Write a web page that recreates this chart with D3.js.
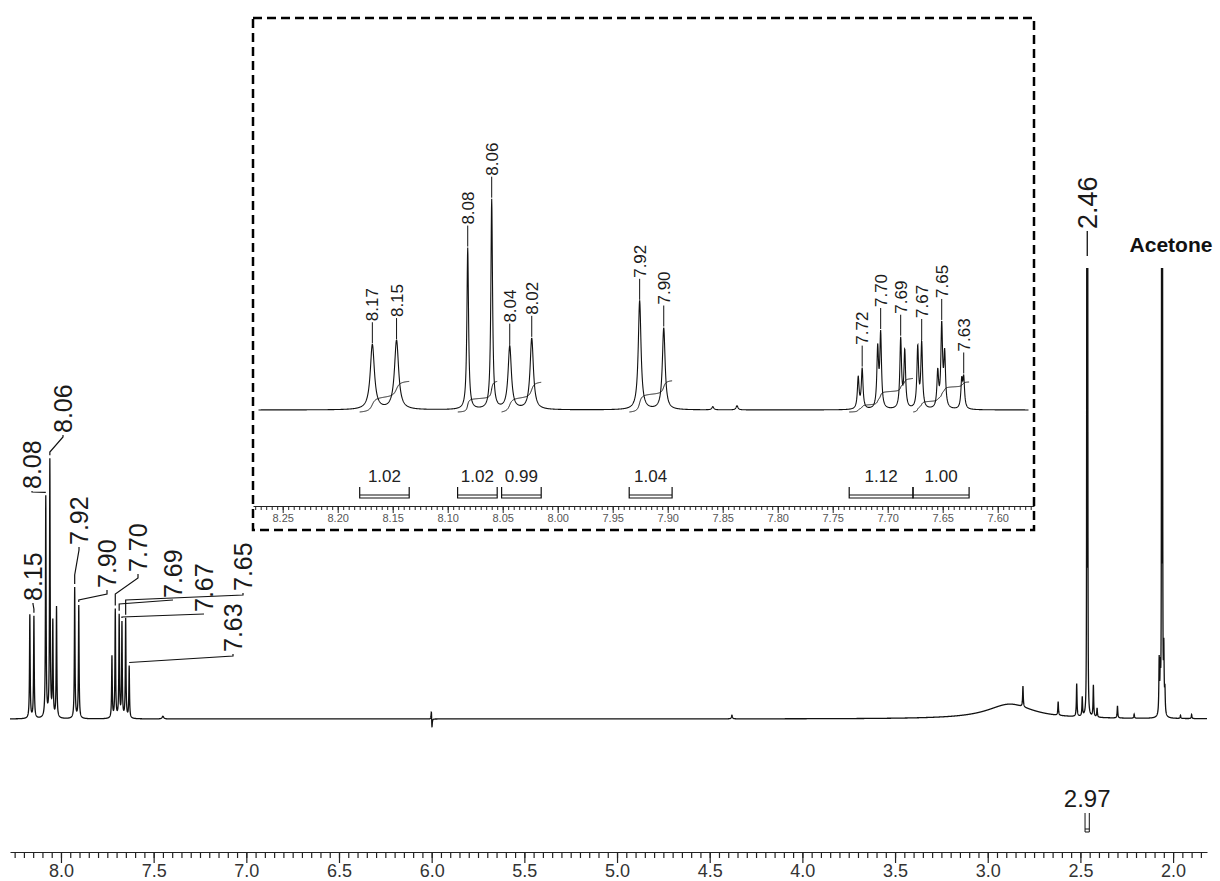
<!DOCTYPE html>
<html>
<head>
<meta charset="utf-8">
<script src="https://cdn.jsdelivr.net/npm/d3@7"></script>
<style>
  body { margin: 0; background: #fff; }
  svg { display: block; font-family: "Liberation Sans", Arial, Helvetica, sans-serif; }
</style>
</head>
<body>
<svg id="chart" width="1220" height="881"></svg>
<script>
// ---- full spectrum: line positions (ppm), intensity (% of tallest), line width (ppm) ----
const mainPpm    = [8.168, 8.146, 8.082, 8.060, 8.044, 8.024, 7.926, 7.904, 7.725, 7.707, 7.686, 7.671, 7.651, 7.632,
                    7.45, 6.0015, 5.9985, 4.38, 2.88, 2.81, 2.62, 2.52, 2.49, 2.4655, 2.4605, 2.43, 2.41, 2.30, 2.21,
                    2.075, 2.069, 2.062, 2.057, 2.050, 2.044, 1.96, 1.90];
const mainHeight = [23, 22.6, 49, 57, 21, 24.6, 29, 25, 13.7, 24, 22.6, 21, 22, 11.5,
                    0.6, 2.2, -2.4, 0.8, 3.3, 4.6, 3, 7.3, 4.2, 120, 120, 7, 2, 2.7, 0.9,
                    12, 9, 120, 120, 14, 5, 0.7, 0.9];
const mainWidth  = [0.004, 0.004, 0.004, 0.004, 0.004, 0.004, 0.004, 0.004, 0.004, 0.004, 0.004, 0.004, 0.004, 0.004,
                    0.01, 0.004, 0.004, 0.006, 0.30, 0.004, 0.004, 0.004, 0.004, 0.002, 0.002, 0.004, 0.004, 0.004, 0.004,
                    0.004, 0.004, 0.002, 0.002, 0.004, 0.004, 0.004, 0.004];

const mainLabels   = ["8.15", "8.08", "8.06", "7.92", "7.90", "7.70", "7.69", "7.67", "7.65", "7.63"];
const mainLabelPpm = [8.146, 8.082, 8.060, 7.926, 7.904, 7.707, 7.686, 7.671, 7.651, 7.632];
const mainIntegralRange = [2.475, 2.452];
const mainIntegralValue = "2.97";

// ---- expansion 8.28 - 7.57 ppm ----
const insetPpm    = [8.1685, 8.1465, 8.0818, 8.0600, 8.0436, 8.0236, 7.9255, 7.9036, 7.8590, 7.8370,
                     7.7268, 7.7232, 7.7091, 7.7064, 7.6882, 7.6845, 7.6727, 7.6691, 7.6545, 7.6509, 7.6482, 7.6327, 7.6309];
const insetHeight = [31, 33, 77, 100, 30, 34, 52, 39, 1.5, 2,
                     15, 19, 28, 35, 33, 27, 29, 31, 17, 39, 25, 13, 14];
const insetWidth  = [0.0045, 0.0045, 0.0018, 0.0018, 0.0036, 0.0036, 0.003, 0.003, 0.002, 0.002,
                     0.0018, 0.0018, 0.0018, 0.0018, 0.0018, 0.0018, 0.0018, 0.0018, 0.0018, 0.0018, 0.0018, 0.0018, 0.0018];

const insetLabels   = ["8.17", "8.15", "8.08", "8.06", "8.04", "8.02", "7.92", "7.90", "7.72", "7.70", "7.69", "7.67", "7.65", "7.63"];
const insetLabelPpm = [8.1685, 8.1465, 8.0818, 8.0600, 8.0436, 8.0236, 7.9255, 7.9036, 7.7232, 7.7064, 7.6882, 7.6691, 7.6509, 7.6309];

const integralFrom  = [8.180, 8.091, 8.051, 7.935, 7.735, 7.677];
const integralTo    = [8.135, 8.055, 8.015, 7.896, 7.677, 7.626];
const integralValue = ["1.02", "1.02", "0.99", "1.04", "1.12", "1.00"];

const mainTicks  = [8.0, 7.5, 7.0, 6.5, 6.0, 5.5, 5.0, 4.5, 4.0, 3.5, 3.0, 2.5, 2.0];
const insetTicks = [8.25, 8.20, 8.15, 8.10, 8.05, 8.00, 7.95, 7.90, 7.85, 7.80, 7.75, 7.70, 7.65, 7.60];

// label leader layout for the full spectrum (text x, text start y, knee y, join y)
const mainLabelLayout = [
  [33, 601, 604, 609], [32, 489, 492, 495], [63, 433, 437, 452], [79, 545, 550, 575], [107, 588, 594, 600],
  [138, 572, 578, 594], [173, 598, 600, 604], [204, 612, 614, 617], [243, 591, 595, 600], [233, 652, 656, 664]
];

const svg = d3.select("#chart");

// sum of Lorentzian lines sampled from hi to lo ppm
function spectrum(ppms, heights, widths, hi, lo, step) {
  const n = Math.round((hi - lo) / step);
  const pts = [];
  for (let k = 0; k <= n; k++) {
    const p = hi - k * step;
    let v = 0;
    for (let i = 0; i < ppms.length; i++) {
      const d = (p - ppms[i]) / (widths[i] / 2);
      v += heights[i] / (1 + d * d);
    }
    pts.push([p, v]);
  }
  return pts;
}

function peakTop(pts, ppm, tol) {
  return d3.max(pts.filter(d => Math.abs(d[0] - ppm) <= tol), d => d[1]);
}

function rotLabel(g, text, x, y, size) {
  g.append("text")
    .attr("transform", `translate(${x},${y}) rotate(-90)`)
    .attr("dy", "0.35em")
    .attr("font-size", size)
    .attr("fill", "#1a1a1a")
    .text(text);
}

// ================= full spectrum =================
const x = d3.scaleLinear().domain([8.275, 1.817]).range([10, 1207]);
const y = d3.scaleLinear().domain([0, 100]).range([719, 268]);

svg.append("clipPath").attr("id", "clipMain")
  .append("rect").attr("x", 0).attr("y", 268).attr("width", 1220).attr("height", 600);

const mainData = spectrum(mainPpm, mainHeight, mainWidth, 8.275, 1.817, 0.0005);

svg.append("path")
  .datum(mainData)
  .attr("clip-path", "url(#clipMain)")
  .attr("fill", "none")
  .attr("stroke", "#111")
  .attr("stroke-width", 1.3)
  .attr("d", d3.line().x(d => x(d[0])).y(d => y(d[1])));

// peak labels with leaders
const mainLab = svg.append("g");
mainLabels.forEach((t, i) => {
  const [tx, ty, knee, join] = mainLabelLayout[i];
  const px = x(mainLabelPpm[i]);
  const top = y(peakTop(mainData, mainLabelPpm[i], 0.003)) - 3;
  mainLab.append("path")
    .attr("fill", "none").attr("stroke", "#111").attr("stroke-width", 1.2)
    .attr("d", d3.line()([[tx, ty + 2], [tx, knee], [px, Math.min(join, top)], [px, top]]));
  rotLabel(mainLab, t, tx, ty, 25);
});

// 2.46 label
const p246 = 2.463;
mainLab.append("line")
  .attr("x1", x(p246)).attr("x2", x(p246)).attr("y1", 231).attr("y2", 256)
  .attr("stroke", "#111").attr("stroke-width", 1.3);
rotLabel(mainLab, "2.46", x(p246), 229, 27);

mainLab.append("text")
  .attr("x", 1171).attr("y", 252)
  .attr("text-anchor", "middle")
  .attr("font-size", 21).attr("font-weight", "bold")
  .attr("fill", "#111")
  .text("Acetone");

// integral 2.97
const ix1 = x(mainIntegralRange[0]), ix2 = x(mainIntegralRange[1]);
mainLab.append("path")
  .attr("fill", "none").attr("stroke", "#111").attr("stroke-width", 1)
  .attr("d", `M${ix1},813V832H${ix2}V813M${ix1},829H${ix2}`);
mainLab.append("text")
  .attr("x", (ix1 + ix2) / 2).attr("y", 807)
  .attr("text-anchor", "middle").attr("font-size", 24).attr("fill", "#1a1a1a")
  .text(mainIntegralValue);

// axis
const mainMinor = d3.range(8.25, 1.8, -0.05).map(v => +v.toFixed(2));
svg.append("g").attr("transform", "translate(0,852)")
  .call(d3.axisBottom(x).tickValues(mainMinor).tickSize(6).tickSizeOuter(0).tickFormat(""))
  .call(g => g.selectAll("line,path").attr("stroke", "#222").attr("stroke-width", 1.2));
svg.append("g").attr("transform", "translate(0,852)")
  .call(d3.axisBottom(x).tickValues(mainTicks).tickSize(11).tickSizeOuter(0).tickPadding(1).tickFormat(d3.format(".1f")))
  .call(g => g.select(".domain").remove())
  .call(g => g.selectAll("line").attr("stroke", "#222").attr("stroke-width", 1.2))
  .call(g => g.selectAll("text").attr("font-size", 18).attr("font-family", null).attr("fill", "#333"));

// ================= expansion =================
const xi = d3.scaleLinear().domain([8.277, 7.567]).range([253, 1034]);
const yi = d3.scaleLinear().domain([0, 100]).range([410, 200]);

svg.append("rect")
  .attr("x", 253).attr("y", 18).attr("width", 781).attr("height", 512)
  .attr("fill", "none").attr("stroke", "#000").attr("stroke-width", 2.5)
  .attr("stroke-dasharray", "9,5");

const insetData = spectrum(insetPpm, insetHeight, insetWidth, 8.272, 7.572, 0.0002);
svg.append("path")
  .datum(insetData)
  .attr("fill", "none").attr("stroke", "#111").attr("stroke-width", 1.1)
  .attr("d", d3.line().x(d => xi(d[0])).y(d => yi(d[1])));

// integral curves
integralFrom.forEach((p1, i) => {
  const p2 = integralTo[i];
  const seg = insetData.filter(d => d[0] <= p1 && d[0] >= p2);
  const cum = d3.cumsum(seg, d => d[1]);
  const total = cum[cum.length - 1];
  const rise = +integralValue[i] * 30;
  const pts = seg.map((d, k) => [xi(d[0]), 412 - cum[k] / total * rise]);
  svg.append("path")
    .attr("fill", "none").attr("stroke", "#111").attr("stroke-width", 1)
    .attr("d", d3.line()(pts));
});

// peak labels
const insetLab = svg.append("g");
insetLabels.forEach((t, i) => {
  const px = xi(insetLabelPpm[i]);
  const top = yi(peakTop(insetData, insetLabelPpm[i], 0.0015)) - 1;
  insetLab.append("line")
    .attr("x1", px).attr("x2", px).attr("y1", top).attr("y2", top - 21)
    .attr("stroke", "#111").attr("stroke-width", 1);
  rotLabel(insetLab, t, px, top - 22, 17);
});

// integral brackets
integralFrom.forEach((p1, i) => {
  const a = xi(p1), b = xi(integralTo[i]);
  insetLab.append("path")
    .attr("fill", "none").attr("stroke", "#111").attr("stroke-width", 1.2)
    .attr("d", `M${a},487V498H${b}V487M${a},495H${b}`);
  insetLab.append("text")
    .attr("x", (a + b) / 2).attr("y", 482)
    .attr("text-anchor", "middle").attr("font-size", 17).attr("fill", "#222")
    .text(integralValue[i]);
});

// expansion axis
const insetMinor = d3.range(8.275, 7.566, -0.005).map(v => +v.toFixed(3));
svg.append("g").attr("transform", "translate(0,506)")
  .call(d3.axisBottom(xi).tickValues(insetMinor).tickSize(4).tickSizeOuter(0).tickFormat(""))
  .call(g => g.selectAll("line,path").attr("stroke", "#222").attr("stroke-width", 1));
svg.append("g").attr("transform", "translate(0,506)")
  .call(d3.axisBottom(xi).tickValues(insetTicks).tickSize(7).tickSizeOuter(0).tickPadding(1).tickFormat(d3.format(".2f")))
  .call(g => g.select(".domain").remove())
  .call(g => g.selectAll("line").attr("stroke", "#222").attr("stroke-width", 1))
  .call(g => g.selectAll("text").attr("font-size", 11).attr("font-family", null).attr("fill", "#555"));
</script>
</body>
</html>
